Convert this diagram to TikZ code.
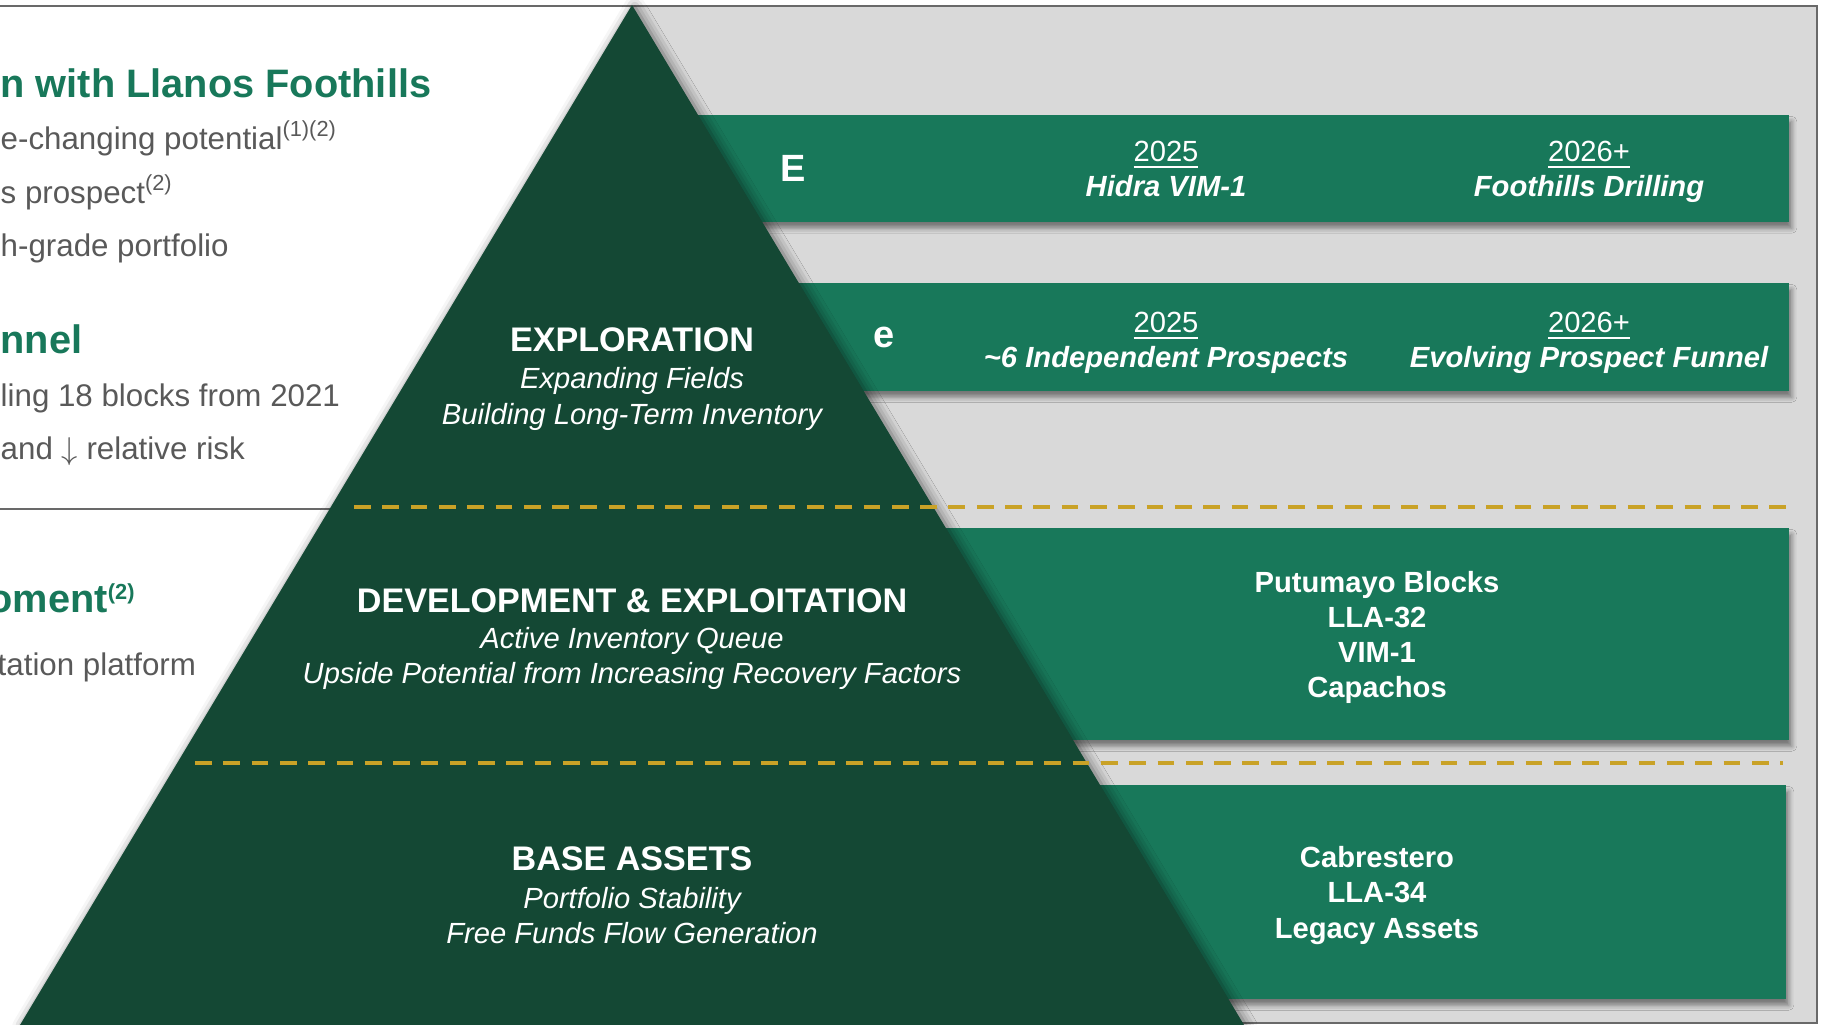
\documentclass[tikz,border=0pt]{standalone}
\usepackage{fontspec}
\setmainfont{Liberation Sans}
\usetikzlibrary{shadows.blur}

\definecolor{pyramid}{RGB}{20,72,52}
\definecolor{tier}{RGB}{24,120,90}
\definecolor{panel}{RGB}{217,217,217}
\definecolor{framegrey}{RGB}{105,105,105}
\definecolor{gold}{RGB}{201,162,39}
\definecolor{bodygrey}{RGB}{89,89,89}

\tikzset{
    tierbox/.style={fill=tier, blur shadow={shadow xshift=0.8pt, shadow yshift=-1.8pt, shadow blur radius=1.4pt, shadow opacity=45}},
    divider/.style={gold, line width=1.1pt, dash pattern=on 4.75pt off 3.3pt},
    rule/.style={framegrey, line width=0.7pt},
    lvltitle/.style={white, inner sep=0, anchor=base, font=\fontsize{9.7}{11}\selectfont\bfseries},
    lvlsub/.style={white, inner sep=0, anchor=base, font=\fontsize{8.3}{10}\selectfont\itshape},
    boxtext/.style={white, inner sep=0, align=center, font=\fontsize{8.3}{9.96}\selectfont\bfseries},
    yeartext/.style={white, inner sep=0, anchor=base, font=\fontsize{8.3}{10}\selectfont},
    nametext/.style={white, inner sep=0, anchor=base, font=\fontsize{8.3}{10}\selectfont\bfseries\itshape},
    boxletter/.style={white, inner sep=0, font=\fontsize{10.8}{12}\selectfont\bfseries},
    lefthead/.style={tier, inner sep=0, anchor=base west, font=\fontsize{11.3}{13}\selectfont\bfseries},
    leftbody/.style={bodygrey, inner sep=0, anchor=base west, font=\fontsize{8.9}{11}\selectfont}
}
\newcommand{\refmark}[1]{\textsuperscript{\fontsize{6.2}{7}\selectfont #1}}

\begin{document}
\begin{tikzpicture}[x=0.01cm, y=-0.01cm]
    \useasboundingbox (0, 0) rectangle (1821, 1025);
    % grey panel and frame
    \fill[panel] (632, 6) rectangle (1817, 1023);
    \draw[rule] (0, 6) -- (1817, 6) -- (1817, 1023) -- (632, 1023);
    \draw[rule] (0, 509) -- (400, 509);

    % tier boxes
    \fill[tierbox] (625, 115) rectangle (1789, 222);
    \fill[tierbox] (625, 283) rectangle (1789, 391);
    \fill[tierbox] (625, 528) rectangle (1789, 740);
    \fill[tierbox] (625, 785) rectangle (1786, 999);

    % pyramid
    \fill[pyramid, blur shadow={shadow xshift=0.8pt, shadow yshift=-0.4pt, shadow blur radius=3pt, shadow opacity=55}] (632, 5) -- (1244, 1025) -- (20, 1025) -- cycle;

    \draw[divider] (354, 507) -- (1789, 507);
    \draw[divider] (195, 763) -- (1783, 763);

    % pyramid labels
    \node[lvltitle] (expl) at (632, 352) {EXPLORATION};
    \node[lvlsub] (expl1) at (632, 389) {Expanding Fields};
    \node[lvlsub] (expl2) at (632, 425) {Building Long-Term Inventory};
    \node[lvltitle] (dev) at (632, 613) {DEVELOPMENT \& EXPLOITATION};
    \node[lvlsub] (dev1) at (632, 649) {Active Inventory Queue};
    \node[lvlsub] (dev2) at (632, 684) {Upside Potential from Increasing Recovery Factors};
    \node[lvltitle] (base) at (632, 870) {BASE ASSETS};
    \node[lvlsub] (base1) at (632, 908) {Portfolio Stability};
    \node[lvlsub] (base2) at (632, 943) {Free Funds Flow Generation};

    % box labels
    \node[boxletter] (bigE) at (793, 168.5) {E};
    \node[yeartext] (yr1) at (1166, 162) {\underline{2025}};
    \node[nametext] (hidra) at (1166, 197) {Hidra VIM-1};
    \node[yeartext] (yr2) at (1589, 162) {\underline{2026+}};
    \node[nametext] (foot) at (1589, 197) {Foothills Drilling};
    \node[boxletter] (smallE) at (884, 337) {e};
    \node[yeartext] (yr3) at (1166, 333) {\underline{2025}};
    \node[nametext] (indep) at (1166, 368) {\textasciitilde6 Independent Prospects};
    \node[yeartext] (yr4) at (1589, 333) {\underline{2026+}};
    \node[nametext] (funnel) at (1589, 368) {Evolving Prospect Funnel};
    \node[boxtext] (devlist) at (1377, 637.5) {Putumayo Blocks\\LLA-32\\VIM-1\\Capachos};
    \node[boxtext] (baselist) at (1377, 895.5) {Cabrestero\\LLA-34\\Legacy Assets};

    % left column (cut off)
    \node[lefthead] (head1) at (0, 98) {n with Llanos Foothills};
    \node[leftbody] (line1) at (0, 150) {e-changing potential\refmark{(1)(2)}};
    \node[leftbody] (line2) at (0, 204) {s prospect\refmark{(2)}};
    \node[leftbody] (line3) at (0, 257) {h-grade portfolio};
    \node[lefthead] (head2) at (0, 354) {nnel};
    \node[leftbody] (line4) at (0, 407) {ling 18 blocks from 2021};
    \node[leftbody] (line5) at (0, 460) {and $\downarrow$ relative risk};
    \node[lefthead] (head3) at (-12, 613) {oment\refmark{(2)}};
    \node[leftbody] (line6) at (-3, 676) {tation platform};
\end{tikzpicture}
\end{document}
